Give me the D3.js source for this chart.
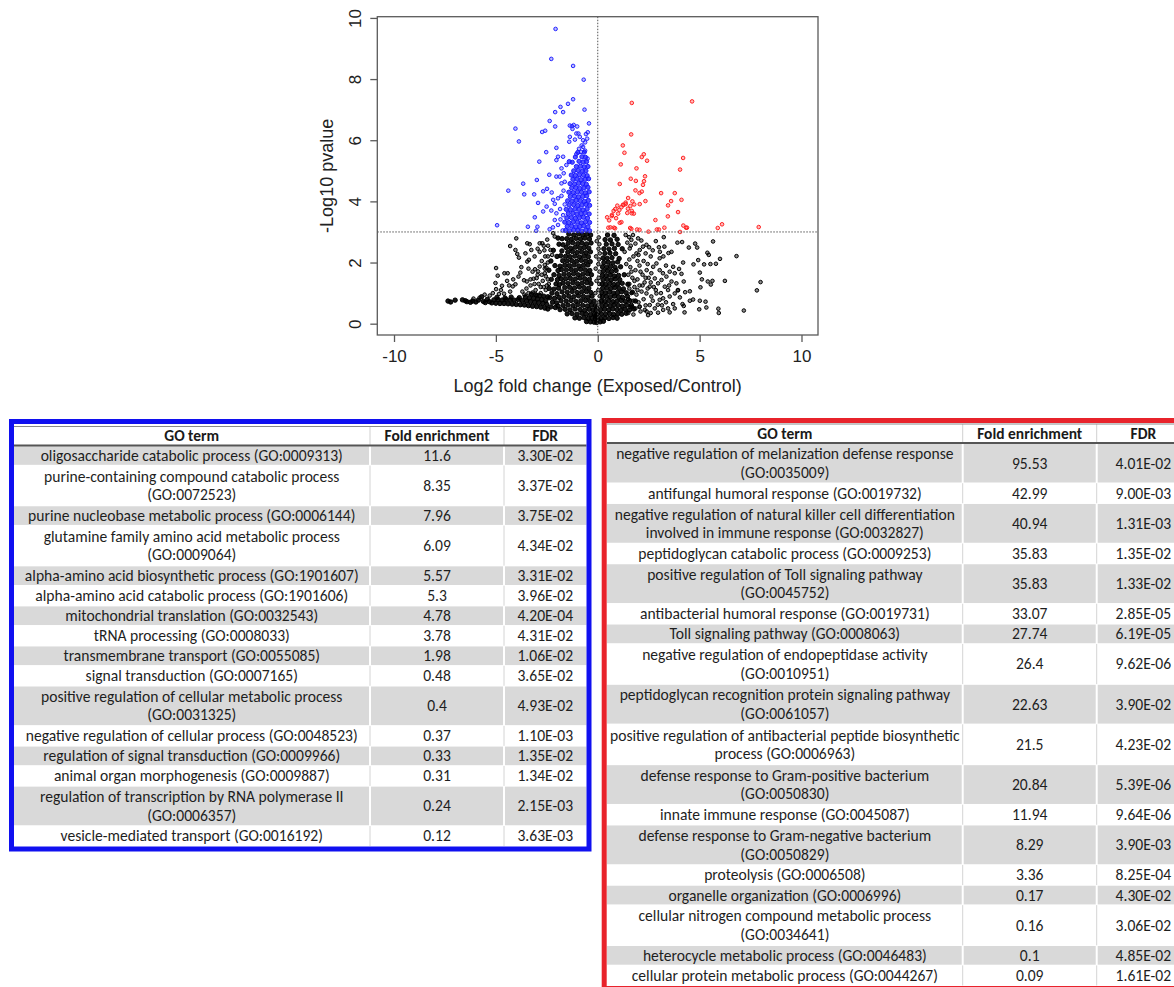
<!DOCTYPE html>
<html><head><meta charset="utf-8">
<script src="https://cdn.jsdelivr.net/npm/d3@7"></script>
<style>html,body{margin:0;padding:0;background:#fff;}svg{display:block;}</style>
</head><body>
<script>
// ---------------- DATA ----------------
const xTicks = [-10, -5, 0, 5, 10];
const yTicks = [0, 2, 4, 6, 8, 10];
const pCut = 3;      // -log10 p threshold line
const fcCut = 0;     // log2 fold change reference line
const xTitle = "Log2 fold change (Exposed/Control)";
const yTitle = "-Log10 pvalue";

// significantly down-regulated genes (blue)
const downGenes = [
[-2.07,9.64],[-2.28,8.66],[-1.21,8.43],[-0.69,7.98],[-1.21,7.34],[-1.46,7.19],[-1.83,7.09],[-1.70,6.92],[-2.09,6.92],[-0.65,7.00],
[-2.36,6.63],[-4.04,6.38],[-2.09,6.45],[-2.58,6.31],[-2.73,6.27],[-3.87,5.96],[-1.37,6.48],[-1.27,6.46],[-1.18,6.50],[-1.01,6.45],
[-1.24,6.37],[-0.43,6.55],[-0.49,6.26],[-0.95,6.22],[-1.05,6.22],[-0.88,6.11],[-1.37,6.11],[-1.40,5.95],[-0.72,6.00],[-0.62,5.93],
[-0.79,5.83],[-0.52,6.05],[-1.12,6.02],[-0.58,6.20],[-2.03,5.75],[-2.53,5.61],[-1.70,5.46],[-2.03,5.35],[-1.95,5.46],[-1.05,5.55],
[-0.92,5.72],[-0.82,5.62],[-0.62,5.66],[-0.50,5.40],[-0.72,5.78],[-2.87,5.30],[-2.38,4.87],[-2.99,4.70],[-3.66,4.58],[-4.39,4.35],
[-3.61,4.23],[-3.12,4.23],[-2.68,4.33],[-2.49,4.41],[-2.26,4.29],[-2.19,4.05],[-2.93,3.95],[-2.51,3.83],[-2.68,3.67],[-3.09,3.48],
[-3.43,3.17],[-4.94,3.22],[-2.96,3.17],[-3.02,3.04],[-2.36,3.09],[-2.03,3.61],[-2.11,3.39],[-1.95,3.23],[-1.83,3.41],[-2.28,3.70],
[-2.11,3.92],[-1.95,4.10],[-1.78,4.18],[-1.78,4.59],[-1.87,4.81],[-1.67,4.92],[-1.62,4.64],[-1.78,5.08],[-2.03,4.81],[-1.54,5.19],
[-2.20,3.15],[-1.72,3.05],[-1.85,3.75],[-1.70,3.55],[-1.62,3.90],[-1.68,4.35]
];
const downCluster = [
[-1.58,3.05],[-1.38,3.04],[-1.18,3.06],[-0.98,3.05],[-0.78,3.03],[-0.58,3.06],[-0.40,3.04],
[-1.50,3.18],[-1.28,3.19],[-1.08,3.17],[-0.88,3.18],[-0.68,3.20],[-0.48,3.17],
[-1.62,3.32],[-1.42,3.31],[-1.20,3.33],[-1.00,3.32],[-0.80,3.30],[-0.60,3.33],[-0.40,3.31],
[-1.52,3.46],[-1.30,3.47],[-1.10,3.45],[-0.90,3.46],[-0.70,3.48],[-0.50,3.45],
[-1.45,3.60],[-1.22,3.61],[-1.02,3.59],[-0.82,3.60],[-0.62,3.62],[-0.42,3.59],
[-1.55,3.74],[-1.34,3.73],[-1.12,3.75],[-0.92,3.74],[-0.72,3.72],[-0.52,3.75],
[-1.40,3.88],[-1.18,3.89],[-0.98,3.87],[-0.78,3.88],[-0.58,3.90],[-0.40,3.87],
[-1.48,4.02],[-1.26,4.01],[-1.06,4.03],[-0.86,4.02],[-0.66,4.00],[-0.46,4.03],
[-1.35,4.16],[-1.14,4.17],[-0.94,4.15],[-0.74,4.16],[-0.54,4.18],
[-1.42,4.30],[-1.20,4.29],[-1.00,4.31],[-0.80,4.30],[-0.60,4.28],[-0.42,4.31],
[-1.28,4.44],[-1.08,4.45],[-0.88,4.43],[-0.68,4.44],[-0.48,4.46],
[-1.36,4.58],[-1.14,4.57],[-0.94,4.59],[-0.74,4.58],[-0.56,4.56],
[-1.22,4.72],[-1.02,4.73],[-0.82,4.71],[-0.62,4.72],[-0.45,4.74],
[-1.30,4.86],[-1.10,4.85],[-0.90,4.87],[-0.70,4.86],[-0.52,4.84],
[-1.18,5.00],[-0.96,5.01],[-0.76,4.99],[-0.58,5.00],
[-1.05,5.14],[-0.85,5.15],[-0.66,5.13],[-0.48,5.14],
[-1.40,5.30],[-1.25,5.28],[-0.92,5.31],[-0.72,5.29],[-0.55,5.30],
[-1.10,5.45],[-0.78,5.46],[-0.60,5.44],
[-0.98,5.60],[-0.66,5.61]
];

// significantly up-regulated genes (red)
const upGenes = [
[1.67,7.22],[4.63,7.27],[1.64,6.19],[1.23,5.83],[1.31,5.59],[1.13,5.21],[2.16,5.45],[2.26,5.54],[2.42,5.33],[4.19,5.42],
[4.04,5.04],[1.90,5.08],[1.08,4.57],[1.62,4.74],[1.87,4.67],[2.32,4.82],[2.27,4.66],[2.22,4.54],[2.16,4.32],[1.85,4.36],
[2.05,4.27],[1.49,4.11],[1.37,3.96],[1.24,3.89],[1.70,4.00],[1.79,3.90],[1.60,3.85],[2.34,4.01],[2.06,3.91],[3.11,4.27],
[3.78,4.27],[3.60,4.01],[3.45,3.87],[4.11,4.05],[3.94,3.65],[3.44,3.51],[2.83,3.39],[0.96,3.86],[0.86,3.75],[0.78,3.69],
[0.70,3.56],[0.69,3.52],[1.06,3.72],[1.16,3.81],[1.26,3.88],[1.37,3.91],[1.48,3.76],[1.67,3.61],[1.77,3.60],[1.67,3.69],
[1.08,3.30],[1.16,3.32],[0.46,3.48],[0.56,3.38],[0.52,3.14],[0.79,3.14],[0.85,3.12],[1.59,3.13],[1.65,3.10],[1.93,3.08],
[2.05,3.07],[2.49,3.01],[2.90,3.08],[3.00,3.08],[3.27,3.14],[4.04,3.00],[4.20,3.21],[4.33,3.14],[4.38,3.14],[5.89,3.13],
[6.10,3.25],[7.90,3.16],[0.62,3.15],[1.00,3.60],[1.45,3.62],[0.90,3.45]
];

// non-significant genes (black)
const nsLeftCore = [
[-1.42,2.93],[-1.18,2.90],[-0.95,2.94],[-0.74,2.91],[-0.52,2.93],[-0.35,2.90],
[-1.52,2.78],[-1.30,2.76],[-1.06,2.79],[-0.85,2.77],[-0.63,2.80],[-0.41,2.77],
[-1.45,2.63],[-1.22,2.65],[-0.98,2.62],[-0.77,2.64],[-0.55,2.61],[-0.33,2.64],
[-1.55,2.49],[-1.33,2.47],[-1.10,2.50],[-0.88,2.48],[-0.66,2.49],[-0.44,2.47],
[-1.47,2.34],[-1.24,2.36],[-1.01,2.33],[-0.79,2.35],[-0.57,2.32],[-0.36,2.35],
[-1.58,2.20],[-1.36,2.19],[-1.13,2.21],[-0.90,2.18],[-0.68,2.21],[-0.46,2.19],
[-1.50,2.05],[-1.27,2.06],[-1.04,2.04],[-0.81,2.07],[-0.59,2.05],[-0.37,2.03],
[-1.62,1.91],[-1.39,1.90],[-1.16,1.92],[-0.93,1.89],[-0.70,1.91],[-0.48,1.92],
[-1.54,1.76],[-1.30,1.77],[-1.07,1.75],[-0.84,1.78],[-0.61,1.76],[-0.39,1.74],
[-1.66,1.62],[-1.42,1.61],[-1.19,1.63],[-0.96,1.60],[-0.73,1.62],[-0.50,1.63],[-0.31,1.60],
[-1.58,1.47],[-1.34,1.48],[-1.10,1.46],[-0.87,1.49],[-0.64,1.47],[-0.41,1.45],
[-1.70,1.33],[-1.46,1.32],[-1.22,1.34],[-0.99,1.31],[-0.76,1.33],[-0.53,1.34],[-0.33,1.31],
[-1.62,1.18],[-1.38,1.19],[-1.14,1.17],[-0.90,1.20],[-0.67,1.18],[-0.44,1.16],
[-1.75,1.04],[-1.50,1.03],[-1.26,1.05],[-1.02,1.02],[-0.79,1.04],[-0.56,1.05],[-0.34,1.02],
[-1.66,0.89],[-1.42,0.90],[-1.18,0.88],[-0.94,0.91],[-0.70,0.89],[-0.47,0.87],[-0.28,0.90],
[-1.80,0.75],[-1.55,0.74],[-1.31,0.76],[-1.07,0.73],[-0.83,0.75],[-0.60,0.76],[-0.38,0.73],[-0.18,0.74],
[-1.70,0.60],[-1.46,0.61],[-1.22,0.59],[-0.98,0.62],[-0.74,0.60],[-0.51,0.58],[-0.30,0.61],[-0.12,0.59],
[-1.85,0.46],[-1.60,0.47],[-1.36,0.45],[-1.11,0.48],[-0.87,0.46],[-0.64,0.44],[-0.42,0.47],[-0.24,0.45],[-0.08,0.44],
[-1.50,0.32],[-1.26,0.33],[-1.02,0.31],[-0.78,0.34],[-0.56,0.32],[-0.35,0.30],[-0.17,0.31],[-0.04,0.30],
[-1.12,0.19],[-0.90,0.18],[-0.68,0.20],[-0.47,0.17],[-0.28,0.18],[-0.12,0.16],
[-0.55,0.07],[-0.36,0.06],[-0.18,0.05],[-0.05,0.04],
[-2.30,0.55],[-2.08,0.53],[-1.95,0.58],[-2.22,0.70],[-2.02,0.68],[-2.35,0.85],[-2.12,0.83],[-1.90,0.86],
[-2.25,1.00],[-2.00,0.98],[-2.38,1.15],[-2.15,1.13],[-1.92,1.16],[-2.05,1.30],[-1.88,1.28],[-2.28,1.45],
[-1.98,1.44],[-1.80,1.47],[-2.15,1.60],[-1.90,1.58],[-2.40,1.75],[-1.95,1.74],[-1.78,1.77],[-2.10,1.90],
[-1.85,1.88],[-2.30,2.05],[-1.72,2.06],[-2.00,2.20],[-1.82,2.22],[-2.18,2.40],[-1.76,2.38],[-1.90,2.60],
[-1.70,2.58],[-1.95,2.80],[-1.75,2.78]
];
const nsLeftWing = [
[-7.35,0.74],[-7.22,0.71],[-7.00,0.77],[-6.64,0.78],[-6.50,0.75],[-6.42,0.72],[-6.25,0.70],[-6.14,0.74],[-5.98,0.71],[-5.86,0.77],
[-5.70,0.88],[-5.62,0.73],[-5.52,0.69],[-5.42,0.80],[-5.32,0.72],
[-5.20,0.68],[-5.00,0.67],[-4.80,0.66],[-4.60,0.66],[-4.40,0.65],[-4.20,0.64],[-4.00,0.63],[-3.80,0.62],[-3.60,0.61],[-3.40,0.59],
[-3.20,0.57],[-3.00,0.56],[-2.80,0.54],[-2.60,0.51],[-2.45,0.48],
[-5.10,0.78],[-4.90,0.79],[-4.70,0.77],[-4.50,0.79],[-4.30,0.78],[-4.10,0.77],[-3.90,0.79],[-3.70,0.76],[-3.50,0.74],[-3.30,0.72],
[-3.10,0.70],[-2.90,0.69],[-2.70,0.66],[-2.50,0.63],
[-4.95,0.86],[-4.55,0.84],[-4.25,0.87],[-3.85,0.85],[-3.55,0.88],[-3.35,0.85],[-3.15,0.83],[-2.95,0.81],[-2.75,0.79],[-2.55,0.76],
[-3.05,0.95],[-2.85,0.92],[-2.65,0.90],[-2.45,0.88],[-3.25,0.97]
];
const nsLeftScatter = [
[-4.00,2.79],[-4.30,2.54],[-4.04,2.41],[-3.87,2.16],[-3.95,2.28],[-3.46,2.63],[-3.34,2.60],[-3.26,2.41],[-3.38,2.09],[-3.46,2.03],
[-2.85,2.63],[-2.72,2.63],[-2.44,2.55],[-2.32,2.41],[-2.24,2.25],[-2.19,2.96],[-2.11,2.85],[-4.99,1.82],[-4.91,1.57],[-5.02,1.33],
[-4.99,1.13],[-4.58,1.65],[-4.42,1.65],[-4.70,1.24],[-4.17,1.22],[-4.04,1.29],[-3.80,1.67],[-3.89,1.54],[-3.62,1.42],[-3.48,1.38],
[-3.30,1.45],[-3.15,1.47],[-3.00,1.49],[-3.08,1.78],[-2.93,1.71],[-2.85,1.87],[-2.60,1.92],[-2.52,1.83],[-3.20,1.02],[-3.05,1.10],
[-2.80,1.20],[-2.55,1.10],[-2.70,1.40],[-2.45,1.45],[-2.90,1.30],[-2.60,1.65],[-2.75,2.05],[-2.58,2.20],[-2.45,2.00],[-2.50,1.25],
[-3.50,1.15],[-3.70,1.05],[-4.30,1.05],[-4.60,0.98],[-4.85,0.97],[-5.30,0.92],[-5.55,0.95],[-4.45,1.40],[-3.75,1.85],[-3.55,2.30],
[-3.10,2.20],[-2.95,2.45],[-2.48,2.75],[-2.62,2.40],
[-3.60,0.95],[-3.40,1.00],[-3.00,0.92],[-2.80,1.00],[-2.65,1.20],[-2.40,1.30],[-2.55,1.55],[-2.75,1.60],[-2.95,1.60],[-3.20,1.70],
[-3.40,1.80],[-3.10,1.30],[-3.30,1.25],[-2.60,1.80],[-2.45,2.20],[-2.65,2.55],[-2.85,2.35],[-4.15,1.45],[-4.35,1.25],[-4.75,1.10],
[-5.15,1.00],[-5.80,0.85],[-6.10,0.82]
];
const nsNearZero = [
[0.05,2.82],[0.08,2.60],[0.04,2.45],[0.10,2.30],[0.06,2.10],[0.03,1.95],[0.09,1.70],[0.05,1.50],[0.07,1.30],[0.03,1.10],
[0.10,0.90],[0.05,0.70],[-0.05,2.70],[-0.08,2.20],[-0.10,1.80],[-0.06,1.40],[-0.12,1.00],[-0.04,0.55],[0.02,0.35]
];
const nsRightCore = [
[0.12,0.06],[0.28,0.08],[0.00,0.15],[-0.10,0.25],
[0.15,0.18],[0.35,0.19],[0.55,0.17],[0.75,0.20],[0.95,0.18],
[0.18,0.32],[0.38,0.31],[0.58,0.33],[0.78,0.30],[0.98,0.32],[1.18,0.31],[1.40,0.34],
[0.14,0.46],[0.34,0.47],[0.54,0.45],[0.74,0.48],[0.94,0.46],[1.14,0.44],[1.34,0.47],[1.56,0.45],[1.78,0.48],
[0.20,0.60],[0.40,0.61],[0.60,0.59],[0.80,0.62],[1.00,0.60],[1.20,0.58],[1.42,0.61],[1.65,0.60],
[0.18,0.74],[0.35,0.73],[0.55,0.75],[0.75,0.72],[0.95,0.74],[1.15,0.76],[1.36,0.73],[1.58,0.75],[1.85,0.74],
[0.22,0.88],[0.42,0.89],[0.62,0.87],[0.82,0.90],[1.02,0.88],[1.22,0.86],[1.46,0.89],
[0.20,1.02],[0.37,1.01],[0.57,1.03],[0.77,1.00],[0.97,1.02],[1.17,1.04],[1.40,1.01],[1.70,1.03],
[0.24,1.16],[0.44,1.17],[0.64,1.15],[0.84,1.18],[1.04,1.16],[1.26,1.14],
[0.21,1.30],[0.39,1.29],[0.59,1.31],[0.79,1.28],[0.99,1.30],[1.20,1.32],[1.48,1.29],
[0.26,1.44],[0.46,1.45],[0.66,1.43],[0.86,1.46],[1.08,1.44],
[0.23,1.58],[0.41,1.57],[0.61,1.59],[0.81,1.56],[1.02,1.58],[1.30,1.60],
[0.28,1.72],[0.48,1.73],[0.68,1.71],[0.90,1.74],
[0.23,1.86],[0.43,1.85],[0.63,1.87],[0.85,1.84],[1.12,1.86],
[0.30,2.00],[0.52,2.01],[0.75,1.99],[0.98,2.02],
[0.26,2.15],[0.46,2.14],[0.70,2.16],[1.05,2.13],
[0.35,2.30],[0.60,2.31],[0.88,2.29],
[0.30,2.45],[0.55,2.44],[0.82,2.46],[1.20,2.45],
[0.42,2.60],[0.70,2.61],[1.00,2.59],
[0.36,2.75],[0.62,2.74],[0.95,2.76],
[0.48,2.90],[0.80,2.89]
];
const nsRightScatter = [
[1.37,2.90],[1.54,2.83],[1.65,2.74],[1.73,2.90],[1.98,2.79],[2.14,2.72],[2.22,2.52],[2.39,2.58],[2.52,2.50],[2.06,2.41],
[1.90,2.30],[1.57,2.46],[1.32,2.35],[3.24,2.83],[3.27,2.52],[3.47,2.31],[3.62,2.35],[3.04,2.14],[3.22,2.20],[3.91,2.65],
[4.14,2.67],[4.47,2.49],[4.78,2.62],[4.88,2.49],[3.99,1.79],[4.19,2.00],[4.11,1.63],[4.22,1.38],[4.70,1.94],[4.93,2.08],
[5.22,1.94],[5.01,1.67],[5.11,1.45],[5.40,1.38],[5.04,1.19],[2.72,1.86],[2.88,1.97],[3.04,1.75],[2.63,1.65],[2.80,1.48],
[2.96,1.32],[3.13,1.43],[3.37,1.54],[3.53,1.70],[3.70,1.86],[3.78,1.65],[3.62,1.38],[3.29,1.21],[3.45,1.10],[3.86,1.32],
[3.94,1.10],[2.55,1.21],[2.39,0.99],[2.63,0.89],[2.88,0.99],[3.04,0.78],[3.21,0.83],[3.53,0.89],[3.78,0.99],[3.93,1.09],
[4.03,0.86],[4.29,1.03],[4.52,1.06],[3.70,0.64],[3.78,0.50],[3.53,0.37],[4.16,0.64],[4.26,0.37],[4.22,0.58],[4.52,0.75],
[4.68,0.79],[5.01,0.75],[4.98,0.47],[5.29,0.72],[5.33,0.53],[2.06,0.56],[2.31,0.45],[2.55,0.61],[2.80,0.50],[2.96,0.36],
[3.21,0.45],[2.47,0.28],[5.92,0.49],[5.94,0.35],[7.17,0.43],[7.81,1.09],[7.99,1.36],[6.24,1.40],[5.63,1.40],[5.55,1.28],
[6.00,2.12],[5.80,1.96],[5.53,1.95],[5.38,2.32],[5.45,2.25],[5.66,2.69],[6.81,2.21],
[1.55,2.10],[1.75,2.20],[1.95,2.05],[1.60,1.85],[1.85,1.75],[2.05,1.90],[2.25,2.05],[1.50,1.60],[1.70,1.50],[1.95,1.45],
[2.20,1.60],[2.40,1.75],[1.55,1.30],[1.80,1.20],[2.05,1.25],[2.30,1.35],[2.50,1.50],[1.65,1.00],[1.90,0.95],[2.15,1.05],
[1.75,0.75],[2.00,0.70],[2.25,0.80],[1.60,0.55],[1.85,0.50],[2.10,0.40],[1.50,0.35],[1.75,0.30],[2.35,0.60],[2.60,0.35],
[1.45,2.65],[1.62,2.55],[1.85,2.62],[2.00,2.25],[2.35,2.30],[2.60,2.20],[2.45,1.95],[2.70,2.40],[2.85,2.70],[3.00,2.50],
[1.40,1.95],[1.65,1.70],[1.80,1.40],[2.10,1.70],[2.35,1.50],[2.60,1.35],[2.75,1.20],[2.45,1.15],[2.20,1.25],[1.95,1.10],
[2.70,0.75],[2.95,0.62],[3.15,0.60],[3.35,0.70],[3.45,0.50],[2.85,1.10],[3.10,1.00],[3.20,1.65],[3.50,1.25],[3.35,1.90],
[3.05,2.35],[1.50,0.80],[1.55,1.15],[1.70,0.55],[2.05,0.55],[2.40,0.40]
];

// GO enrichment tables
const tableHeaders = ["GO term", "Fold enrichment", "FDR"];
const downTerms = [
"oligosaccharide catabolic process (GO:0009313)",
"purine-containing compound catabolic process\n(GO:0072523)",
"purine nucleobase metabolic process (GO:0006144)",
"glutamine family amino acid metabolic process\n(GO:0009064)",
"alpha-amino acid biosynthetic process (GO:1901607)",
"alpha-amino acid catabolic process (GO:1901606)",
"mitochondrial translation (GO:0032543)",
"tRNA processing (GO:0008033)",
"transmembrane transport (GO:0055085)",
"signal transduction (GO:0007165)",
"positive regulation of cellular metabolic process\n(GO:0031325)",
"negative regulation of cellular process (GO:0048523)",
"regulation of signal transduction (GO:0009966)",
"animal organ morphogenesis (GO:0009887)",
"regulation of transcription by RNA polymerase II\n(GO:0006357)",
"vesicle-mediated transport (GO:0016192)"
];
const downFold = [11.6, 8.35, 7.96, 6.09, 5.57, 5.3, 4.78, 3.78, 1.98, 0.48, 0.4, 0.37, 0.33, 0.31, 0.24, 0.12];
const downFDR = [3.30e-2, 3.37e-2, 3.75e-2, 4.34e-2, 3.31e-2, 3.96e-2, 4.20e-4, 4.31e-2, 1.06e-2, 3.65e-2, 4.93e-2, 1.10e-3, 1.35e-2, 1.34e-2, 2.15e-3, 3.63e-3];

const upTerms = [
"negative regulation of melanization defense response\n(GO:0035009)",
"antifungal humoral response (GO:0019732)",
"negative regulation of natural killer cell differentiation\ninvolved in immune response (GO:0032827)",
"peptidoglycan catabolic process (GO:0009253)",
"positive regulation of Toll signaling pathway\n(GO:0045752)",
"antibacterial humoral response (GO:0019731)",
"Toll signaling pathway (GO:0008063)",
"negative regulation of endopeptidase activity\n(GO:0010951)",
"peptidoglycan recognition protein signaling pathway\n(GO:0061057)",
"positive regulation of antibacterial peptide biosynthetic\nprocess (GO:0006963)",
"defense response to Gram-positive bacterium\n(GO:0050830)",
"innate immune response (GO:0045087)",
"defense response to Gram-negative bacterium\n(GO:0050829)",
"proteolysis (GO:0006508)",
"organelle organization (GO:0006996)",
"cellular nitrogen compound metabolic process\n(GO:0034641)",
"heterocycle metabolic process (GO:0046483)",
"cellular protein metabolic process (GO:0044267)"
];
const upFold = [95.53, 42.99, 40.94, 35.83, 35.83, 33.07, 27.74, 26.4, 22.63, 21.5, 20.84, 11.94, 8.29, 3.36, 0.17, 0.16, 0.1, 0.09];
const upFDR = [4.01e-2, 9.00e-3, 1.31e-3, 1.35e-2, 1.33e-2, 2.85e-5, 6.19e-5, 9.62e-6, 3.90e-2, 4.23e-2, 5.39e-6, 9.64e-6, 3.90e-3, 8.25e-4, 4.30e-2, 3.06e-2, 4.85e-2, 1.61e-2];

// ---------------- DRAWING ----------------
const W = 1174, H = 987;
const svg = d3.select("body").append("svg").attr("width", W).attr("height", H);
const PF = "'Liberation Sans', Arial, Helvetica, sans-serif";
const TF = "Carlito, Lato, 'Open Sans', sans-serif";

// ----- volcano plot -----
const X0 = 377.3, X1 = 818, YB = 335, YT = 16.7;
const x = d3.scaleLinear().domain([-10.82, 10.81]).range([X0, X1]);
const y = d3.scaleLinear().domain([-0.37, 10.04]).range([YB, YT]);

// dense clouds are drawn with heavier, filled rings; sparse genes as lighter rings
const series = [
  {data: [].concat(nsLeftScatter, nsRightScatter, nsNearZero), color: "#000", r: 1.8, fo: 0.45},
  {data: [].concat(nsLeftWing, nsLeftCore, nsRightCore), color: "#000", r: 2.2, fo: 0.9},
  {data: downGenes, color: "#2323ff", r: 1.8, fo: 0.3},
  {data: downCluster, color: "#1a1aff", r: 2.1, fo: 0.75},
  {data: upGenes, color: "#ff2222", r: 1.8, fo: 0.3}
];
series.forEach(s => {
  svg.append("g").selectAll("circle").data(s.data).join("circle")
    .attr("cx", d => x(d[0])).attr("cy", d => y(d[1])).attr("r", s.r)
    .attr("fill", s.color).attr("fill-opacity", s.fo)
    .attr("stroke", s.color).attr("stroke-width", 1);
});

// reference lines
svg.append("line").attr("x1", x(fcCut)).attr("x2", x(fcCut)).attr("y1", YT).attr("y2", YB)
  .attr("stroke", "#555").attr("stroke-width", 1).attr("stroke-dasharray", "1.5,1.5");
svg.append("line").attr("x1", X0).attr("x2", X1).attr("y1", y(pCut)).attr("y2", y(pCut))
  .attr("stroke", "#555").attr("stroke-width", 1).attr("stroke-dasharray", "1.5,1.5");

// box
svg.append("rect").attr("x", X0).attr("y", YT).attr("width", X1 - X0).attr("height", YB - YT)
  .attr("fill", "none").attr("stroke", "#5a5a5a").attr("stroke-width", 1.3);

// x axis
const gx = svg.append("g").attr("transform", `translate(0,${YB})`)
  .call(d3.axisBottom(x).tickValues(xTicks).tickSize(7).tickPadding(8).tickFormat(d => String(d)));
gx.select(".domain").remove();
gx.selectAll("line").attr("stroke", "#5a5a5a").attr("stroke-width", 1.3);
gx.selectAll("text").attr("font-family", PF).attr("font-size", 17).attr("fill", "#222");

// y axis
const gy = svg.append("g").attr("transform", `translate(${X0},0)`)
  .call(d3.axisLeft(y).tickValues(yTicks).tickSize(7).tickFormat(d => String(d)));
gy.select(".domain").remove();
gy.selectAll("line").attr("stroke", "#5a5a5a").attr("stroke-width", 1.3);
gy.selectAll("text").attr("x", null).attr("dy", "0.35em")
  .attr("transform", `translate(${355 - X0},0) rotate(-90)`)
  .attr("text-anchor", "middle")
  .attr("font-family", PF).attr("font-size", 17).attr("fill", "#222");

// titles
svg.append("text").attr("x", (X0 + X1) / 2).attr("y", 392).attr("text-anchor", "middle")
  .attr("font-family", PF).attr("font-size", 18).attr("fill", "#222").text(xTitle);
svg.append("text").attr("transform", `translate(327,${(YT + YB) / 2}) rotate(-90)`)
  .attr("dy", "0.35em").attr("text-anchor", "middle")
  .attr("font-family", PF).attr("font-size", 18).attr("fill", "#222").text(yTitle);

// ----- tables -----
function measure(txt, size, weight) {
  const t = svg.append("text").attr("font-family", TF).attr("font-size", size).attr("font-weight", weight).text(txt);
  const w = t.node().getComputedTextLength(); t.remove(); return w;
}
const bodySize = 14.67 * 302 / measure("oligosaccharide catabolic process (GO:0009313)", 14.67, "normal");
const headSize = 14.67 * 105 / measure("Fold enrichment", 14.67, "bold");

function fmtFDR(v) {
  const [m, e] = v.toExponential(2).split("e");
  const n = Math.abs(+e);
  return m + "E" + (+e < 0 ? "-" : "+") + String(n).padStart(2, "0");
}

function drawTable(cfg, terms, folds, fdrs) {
  const g = svg.append("g");
  const cols = cfg.cols;
  const rows = terms.map((t, i) => ({lines: t.split("\n"), fold: String(folds[i]), fdr: fmtFDR(fdrs[i])}));
  const units = d3.sum(rows, r => r.lines.length);
  const yu = d3.scaleLinear().domain([0, units]).range([cfg.headBottom, cfg.bottom]);
  let acc = 0;
  rows.forEach(r => { r.u0 = acc; acc += r.lines.length; r.u1 = acc; });
  const lineH = (yu(1) - yu(0)) * 0.92;

  rows.forEach((r, i) => {
    const y0 = yu(r.u0), y1 = yu(r.u1), yc = (y0 + y1) / 2;
    if (i % 2 === 0) {
      for (let j = 0; j < 3; j++) {
        g.append("rect").attr("x", cols[j] + (j > 0 ? 1 : 0)).attr("y", y0 + 0.7)
          .attr("width", cols[j + 1] - cols[j] - (j > 0 ? 1 : 0) - (j < 2 ? 1 : 0))
          .attr("height", y1 - y0 - 1.4).attr("fill", "#d9d9d9");
      }
    } else {
      [cols[1], cols[2]].forEach(cx => g.append("line").attr("x1", cx).attr("x2", cx).attr("y1", y0).attr("y2", y1)
        .attr("stroke", "#d4d4d4").attr("stroke-width", 1));
    }
    const n = r.lines.length;
    r.lines.forEach((ln, k) => {
      g.append("text").attr("x", (cols[0] + cols[1]) / 2).attr("y", yc + (k - (n - 1) / 2) * lineH)
        .attr("dy", "0.35em").attr("text-anchor", "middle").attr("font-family", TF)
        .attr("font-size", bodySize).attr("fill", "#1e1e1e").text(ln);
    });
    [[r.fold, 1], [r.fdr, 2]].forEach(([v, j]) => {
      g.append("text").attr("x", (cols[j] + cols[j + 1]) / 2).attr("y", yc).attr("dy", "0.35em")
        .attr("text-anchor", "middle").attr("font-family", TF).attr("font-size", bodySize)
        .attr("fill", "#1e1e1e").text(v);
    });
  });

  const hc = (cfg.headTop + cfg.headBottom) / 2;
  [cols[1], cols[2]].forEach(cx => g.append("line").attr("x1", cx).attr("x2", cx)
    .attr("y1", cfg.headTop).attr("y2", cfg.headBottom).attr("stroke", "#d0d0d0").attr("stroke-width", 1));
  tableHeaders.forEach((h, j) => {
    g.append("text").attr("x", (cols[j] + cols[j + 1]) / 2).attr("y", hc).attr("dy", "0.35em")
      .attr("text-anchor", "middle").attr("font-family", TF).attr("font-size", headSize)
      .attr("font-weight", "bold").attr("fill", "#1a1a1a").text(h);
  });
  g.append("line").attr("x1", cols[0]).attr("x2", cols[3]).attr("y1", cfg.headTop).attr("y2", cfg.headTop)
    .attr("stroke", "#8a8a8a").attr("stroke-width", 1);
  g.append("line").attr("x1", cols[0]).attr("x2", cols[3]).attr("y1", cfg.headBottom).attr("y2", cfg.headBottom)
    .attr("stroke", "#555").attr("stroke-width", 1.8);

  g.append("rect").attr("x", cfg.frame[0]).attr("y", cfg.frame[1])
    .attr("width", cfg.frame[2] - cfg.frame[0]).attr("height", cfg.frame[3] - cfg.frame[1])
    .attr("fill", "none").attr("stroke", cfg.color).attr("stroke-width", 5);
}

drawTable({cols: [13.5, 370, 504, 586.5], headTop: 426.5, headBottom: 445.5, bottom: 846,
           frame: [11.5, 421.5, 589, 849], color: "#1010f0"}, downTerms, downFold, downFDR);
drawTable({cols: [607, 962.7, 1096.7, 1190], headTop: 424, headBottom: 443, bottom: 985.5,
           frame: [604.2, 420.5, 1195, 988.5], color: "#e8232b"}, upTerms, upFold, upFDR);
</script>
</body></html>
